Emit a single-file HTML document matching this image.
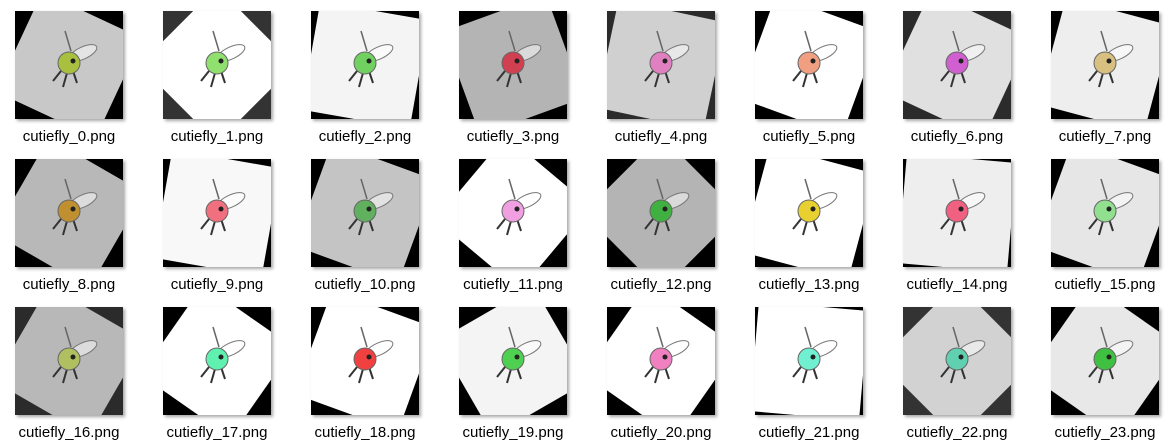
<!DOCTYPE html>
<html><head><meta charset="utf-8">
<style>
body{margin:0;width:1173px;height:445px;background:#fff;overflow:hidden;font-family:"Liberation Sans",sans-serif}
.tile{position:absolute;width:148px;height:148px}
.thumb{position:absolute;left:15px;top:11px;width:108px;height:108px;overflow:hidden;box-shadow:2px 2px 3px rgba(0,0,0,0.35)}
.sq{position:absolute;left:50%;top:50%;width:110px;height:110px;margin:-55px 0 0 -55px}
.label{position:absolute;left:0;width:138px;top:128px;text-align:center;font-size:15px;color:#000}
</style></head><body>
<div id="grid"></div>
<script>
const corners=['#000','#333','#000','#000','#2b2b2b','#000','#2b2b2b','#000','#000','#000','#000','#000','#000','#000','#000','#000','#2b2b2b','#000','#000','#000','#000','#000','#333','#000'];
const inners=['#c8c8c8','#fff','#f4f4f4','#b4b4b4','#d0d0d0','#fff','#e0e0e0','#eeeeee','#b8b8b8','#f8f8f8','#c4c4c4','#fff','#b4b4b4','#fff','#eee','#e6e6e6','#b8b8b8','#fff','#fff','#f4f4f4','#fff','#fff','#d2d2d2','#e8e8e8'];
const angles=[25,45,10,-20,12,20,25,15,30,10,20,40,45,15,5,20,30,35,20,-30,35,5,45,35];
const bodies=['#a8c040','#90e070','#70d060','#d04050','#e080c0','#f0a080','#d060d0','#d8c080','#c09030','#f07080','#60b060','#f0a0e0','#40b040','#e8d030','#f06080','#90e090','#b0c060','#60f0b0','#f04040','#50d050','#f080c0','#70f0d0','#60d0b0','#40c040'];
const grid=document.getElementById('grid');
for(let i=0;i<24;i++){
  const col=i%8,row=Math.floor(i/8);
  const t=document.createElement('div');t.className='tile';
  
  
  t.style.left=(col*148)+'px';t.style.top=(row*148)+'px';
  const th=document.createElement('div');th.className='thumb';th.style.background=corners[i];
  
  
  const sq=document.createElement('div');sq.className='sq';
  sq.style.background=inners[i];sq.style.transform='rotate('+angles[i]+'deg)';
  th.appendChild(sq);
  const svg='<svg width="108" height="108" style="position:absolute;left:0;top:0" viewBox="0 0 108 108">'+
   '<ellipse cx="68" cy="42" rx="15" ry="6" transform="rotate(-25 68 42)" fill="rgba(255,255,255,0.5)" stroke="#777" stroke-width="1"/>'+
   '<line x1="56" y1="40" x2="50" y2="20" stroke="#666" stroke-width="1.5"/>'+
   '<line x1="46" y1="60" x2="38" y2="70" stroke="#333" stroke-width="2"/>'+
   '<line x1="52" y1="62" x2="48" y2="76" stroke="#333" stroke-width="2"/>'+
   '<line x1="58" y1="60" x2="62" y2="72" stroke="#333" stroke-width="2"/>'+
   '<circle cx="54" cy="52" r="11" fill="'+bodies[i]+'" stroke="#666" stroke-width="1"/>'+
   '<circle cx="58" cy="50" r="2.5" fill="#222"/></svg>';
  th.insertAdjacentHTML('beforeend',svg);
  const l=document.createElement('div');l.className='label';l.textContent='cutiefly_'+i+'.png';
  
  
  t.appendChild(th);t.appendChild(l);grid.appendChild(t);
}
</script>
</body></html>
